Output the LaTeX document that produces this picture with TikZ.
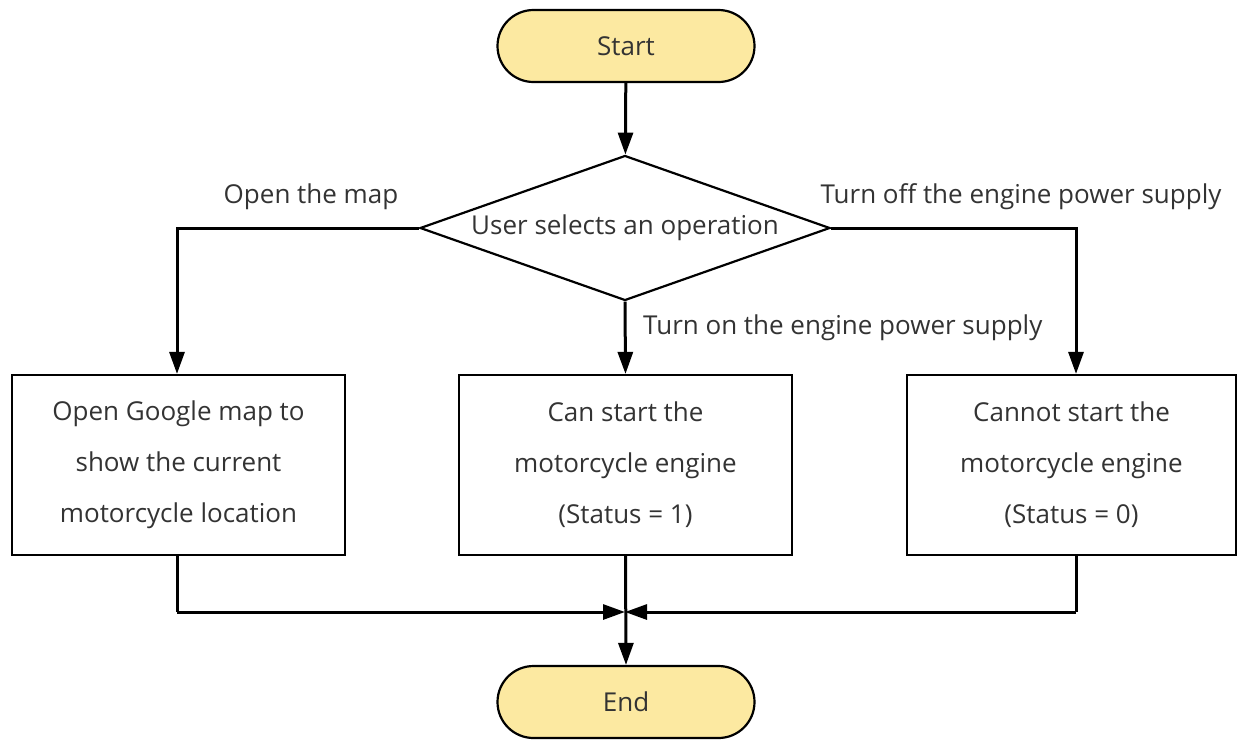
\documentclass[tikz,border=0pt]{standalone}
\usepackage{fontspec}
\setmainfont{Open Sans}
\usetikzlibrary{arrows.meta,shapes.geometric,shapes.misc}
\definecolor{termfill}{HTML}{FCE9A1}
\definecolor{txt}{HTML}{333333}
\tikzset{
  every node/.style={font=\fontsize{26}{51}\selectfont, text=txt},
  term/.style={rounded rectangle, draw=black, line width=2.2pt, fill=termfill,
    minimum width=257pt, minimum height=72pt, inner sep=0pt},
  decision/.style={diamond, draw=black, line width=2.2pt, aspect=2.83,
    minimum width=410pt, minimum height=145pt, inner sep=0pt},
  procbox/.style={rectangle, draw=black, line width=2.2pt, align=center,
    minimum height=180pt, inner sep=0pt},
  flow/.style={line width=3pt, -{Triangle[length=22pt,width=15pt]}},
  plain/.style={line width=3pt},
  lbl/.style={inner sep=0pt, anchor=center}
}
\begin{document}
\begin{tikzpicture}[x=1pt,y=-1pt]
\useasboundingbox (0,0) rectangle (1237,740);

\node[term] (start) at (626,46) {Start};
\node[decision] (choice) at (625,228) {User selects an operation};
\node[procbox, minimum width=333pt] (map) at (178.5,465) {Open Google map to\\show the current\\motorcycle location};
\node[procbox, minimum width=333pt] (on) at (625.5,465) {Can start the\\motorcycle engine\\(Status = 1)};
\node[procbox, minimum width=329pt] (off) at (1071.5,465) {Cannot start the\\motorcycle engine\\(Status = 0)};
\node[term] (end) at (626,702) {End};

\coordinate (mapknee) at (177,228);
\coordinate (offknee) at (1076,228);
\coordinate (join) at (625,612);
\coordinate (mapfoot) at (177,612);
\coordinate (offfoot) at (1076,612);

\draw[flow] (start) -- (choice);
\draw[flow] (choice.west) -- (mapknee) -- (mapknee |- map.north);
\draw[flow] (choice.east) -- (offknee) -- (offknee |- off.north);
\draw[flow] (choice.south) -- (on.north);
\draw[plain] (mapknee |- map.south) -- (mapfoot);
\draw[flow] (mapfoot) -- (join);
\draw[plain] (offknee |- off.south) -- (offfoot);
\draw[flow] (offfoot) -- (join);
\draw[flow] (on.south) -- (end.north);

\node[lbl] (lmap) at (311,197) {Open the map};
\node[lbl] (loff) at (1021,197) {Turn off the engine power supply};
\node[lbl, anchor=west] (lon) at (643,328) {Turn on the engine power supply};
\end{tikzpicture}
\end{document}
